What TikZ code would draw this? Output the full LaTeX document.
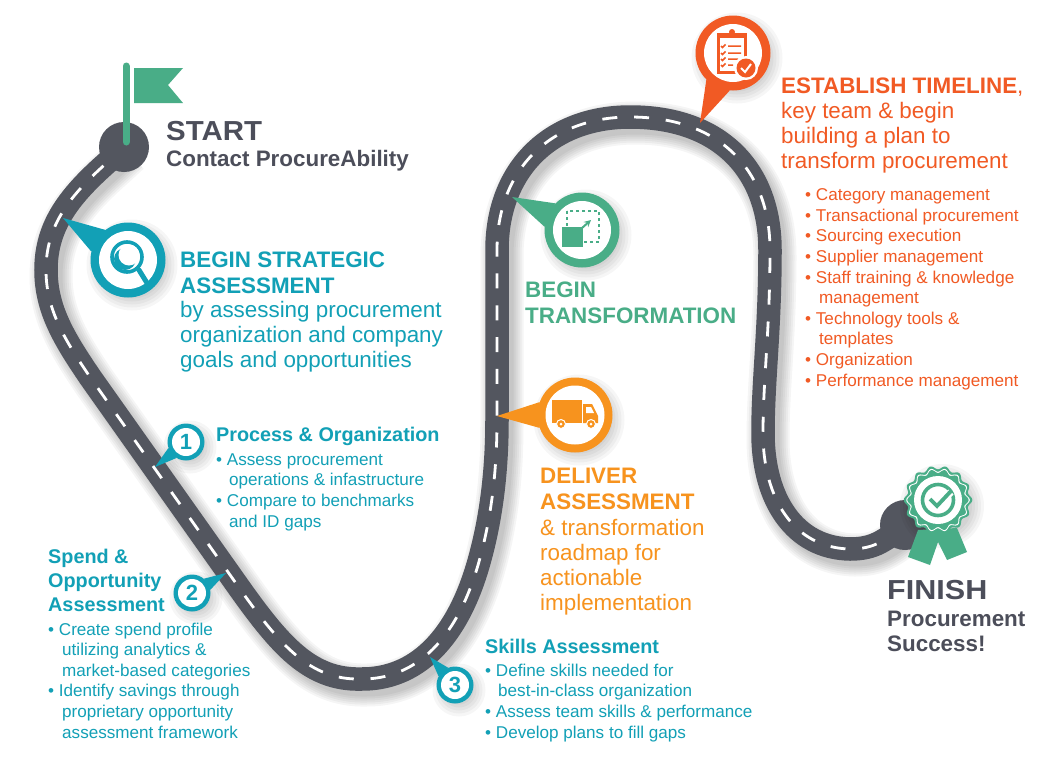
\documentclass[tikz,border=0pt]{standalone}
\usepackage{fontspec}
\setmainfont{Liberation Sans}
\usetikzlibrary{calc}

\definecolor{roadgray}{HTML}{53565F}
\definecolor{inkgray}{HTML}{4C4E5A}
\definecolor{tealmark}{HTML}{12A0B6}
\definecolor{greenmark}{HTML}{49AD87}
\definecolor{orangemark}{HTML}{F7931E}
\definecolor{redmark}{HTML}{F15A24}

\tikzset{
  pinring/.style={circle,inner sep=0pt,fill=#1},
  pinface/.style={circle,inner sep=0pt,fill=white},
  numface/.style={pinface,minimum size=28pt,text=tealmark,font=\fontsize{22}{22}\selectfont\bfseries},
  blocktext/.style={anchor=base west,align=left,inner sep=0pt,text=#1},
  bighead/.style={font=\fontsize{22.4}{25.6}\selectfont\bfseries},
  bigbody/.style={font=\fontsize{22.4}{25}\selectfont},
  smallhead/.style={font=\fontsize{19.8}{24}\selectfont\bfseries},
  smallbody/.style={font=\fontsize{17.1}{20.6}\selectfont},
}

% centre line of the road
\newcommand{\roadline}{(124,147) -- (110,160) .. controls (70,195) and (46,225) .. (46,270) .. controls (46,310) and (65,340) .. (90,377) -- (240,589) .. controls (280,645) and (310,680) .. (360,679) .. controls (415,680) and (458,640) .. (480,558) .. controls (489,525) and (497,480) .. (497,420) -- (497,250) .. controls (497,170) and (550,117) .. (630,117) .. controls (720,117) and (770,170) .. (770,250) .. controls (770,330) and (763,380) .. (763,433) .. controls (763,500) and (795,548) .. (850,549) .. controls (875,549) and (885,540) .. (905,525)}

% name, centre, size, tip, axis angle, colour
\newcommand{\pinmark}[6]{%
  \foreach \s in {0,3,...,15}
    \fill[black,opacity=.035,shift={(4,5)}] (#2) circle ({#3/2+8-\s});
  \node[pinring=#6,minimum size=#3pt] (#1) at (#2) {};
  \pgfmathsetmacro{\pinA}{#5+20}
  \pgfmathsetmacro{\pinB}{#5-20}
  \fill[#6] (#4) -- (#1.\pinA) -- (#1.\pinB) -- cycle;
}

\begin{document}
\begin{tikzpicture}[x=1pt,y=-1pt]
\path[fill=white,use as bounding box] (0,0) rectangle (1050,764);

% road
\foreach \w in {23,27,31,35,39,43}
  \draw[black,opacity=.04,line width=\w pt,shift={(5,6)}] \roadline;
\draw[roadgray,line width=23.5pt] \roadline;
\draw[white,line width=2.8pt,dash pattern=on 15pt off 16.8pt,dash phase=4pt] \roadline;
\fill[roadgray] (124,147) circle (25);
\fill[roadgray] (905,525) circle (25);

% flag
\draw[greenmark,line width=7pt,line cap=round] (126,66) -- (126,142);
\fill[greenmark] (134,68) -- (183,68) -- (168,85) -- (183,103) -- (134,103) -- cycle;

% magnifier
\coordinate (searchtip) at (63,218);
\pinmark{search}{128,260}{75}{searchtip}{147}{tealmark}
\node[pinface,minimum size=58pt] (searchface) at (128,260) {};
\draw[tealmark,line width=3.6pt] (127,257) circle (15);
\fill[tealmark] (125,259) circle (11);
\fill[white] (129,255) circle (10.5);
\draw[tealmark,line width=5pt,line cap=round] (139,270) -- (147,283);

% resize icon
\coordinate (growtip) at (512,197);
\pinmark{grow}{582,230}{75}{growtip}{155}{greenmark}
\node[pinface,minimum size=58pt] (growface) at (582,230) {};
\draw[greenmark,line width=1.4pt,dashed] (567,211) rectangle (599,242);
\fill[greenmark] (562,227) rectangle (583,247);
\draw[greenmark,line width=2pt,-stealth] (582,228) -- (591,220);

% clipboard
\coordinate (plantip) at (700,123);
\pinmark{plan}{733,53}{75}{plantip}{245}{redmark}
\node[pinface,minimum size=58pt] (planface) at (733,53) {};
\fill[redmark] (717,33) rectangle (747,74);
\fill[white] (720,38) rectangle (744,71);
\fill[redmark] (725,34) rectangle (739,38);
\fill[redmark] (732,32) circle (3);
\foreach \y/\e in {46/741,53/741,59/738,65/733}
  \draw[redmark,line width=1.5pt] (721,\y) -- ++(1.5,1.5) -- ++(3,-3) (728,\y) -- (\e,\y);
\fill[white] (746,68) circle (12);
\fill[redmark] (746,68) circle (9.5);
\draw[white,line width=2pt] (741,68) -- (745,72) -- (751,64);

% truck
\coordinate (trucktip) at (497,416);
\pinmark{truck}{575,415}{75}{trucktip}{180}{orangemark}
\node[pinface,minimum size=59pt] (truckface) at (575,415) {};
\fill[orangemark] (552,400) rectangle (582,423);
\fill[orangemark] (583,404) -- (592,404) -- (598,416) -- (598,423) -- (583,423) -- cycle;
\fill[white] (586,407) -- (591,407) -- (594,413) -- (586,413) -- cycle;
\draw[white,line width=1pt,fill=orangemark] (561,424) circle (4.5);
\draw[white,line width=1pt,fill=orangemark] (591,424) circle (4.5);
\fill[white] (561,424) circle (1.5);
\fill[white] (591,424) circle (1.5);

% numbered marks
\coordinate (firsttip) at (155,467);
\pinmark{first}{186,442}{37}{firsttip}{219}{tealmark}
\node[numface] (firstface) at (186,442) {1};
\coordinate (secondtip) at (226,573);
\pinmark{second}{192,593}{37}{secondtip}{30}{tealmark}
\node[numface] (secondface) at (192,593) {2};
\coordinate (thirdtip) at (430,657);
\pinmark{third}{455,685}{37}{thirdtip}{132}{tealmark}
\node[numface] (thirdface) at (455,685) {3};

% medal
\foreach \s in {0,3,...,12}
  \fill[black,opacity=.035] (942,506) circle ({42-\s});
\fill[greenmark] (918,530) -- (908,557) -- (930,565) -- (938,542) -- (947,560) -- (967,552) -- (957,528) -- cycle;
\fill[greenmark] plot[domain=0:360,samples=180] ({938+(32.5+1.8*cos(14*\x))*cos(\x)},{500+(32.5+1.8*cos(14*\x))*sin(\x)}) -- cycle;
\fill[white] plot[domain=0:360,samples=180] ({938+(30+1.8*cos(14*\x))*cos(\x)},{500+(30+1.8*cos(14*\x))*sin(\x)}) -- cycle;
\fill[greenmark] plot[domain=0:360,samples=180] ({938+(28.8+1.8*cos(14*\x))*cos(\x)},{500+(28.8+1.8*cos(14*\x))*sin(\x)}) -- cycle;
\fill[white] (938,500) circle (24);
\draw[greenmark,line width=3.6pt] (938,500) circle (15.5);
\draw[white,line width=7pt] (930,500) -- (937,507) -- (951,492);
\draw[greenmark,line width=3.8pt] (930,499) -- (937,506) -- (951,491);

% start and finish
\node[blocktext=inkgray,xscale=1.07,font=\fontsize{27.5}{27}\selectfont\bfseries] (starthead) at (166,140) {START};
\node[blocktext=inkgray,font=\fontsize{22.4}{25}\selectfont\bfseries] (startbody) at (166,166) {Contact ProcureAbility};
\node[blocktext=inkgray,xscale=1.11,font=\fontsize{27.5}{27}\selectfont\bfseries] (finishhead) at (887,599) {FINISH};
\node[blocktext=inkgray,font=\fontsize{22.4}{25}\selectfont\bfseries] (finishbody) at (887,651) {Procurement\\Success!};

% teal blocks
\node[blocktext=tealmark,bighead] (assesshead) at (180,293) {BEGIN STRATEGIC\\ASSESSMENT};
\node[blocktext=tealmark,bigbody] (assessbody) at (180,367) {by assessing procurement\\organization and company\\goals and opportunities};
\node[blocktext=tealmark,smallhead] (processhead) at (216,441) {Process \& Organization};
\node[blocktext=tealmark,smallbody] (processbody) at (216,527) {• Assess procurement\\\hspace*{13pt}operations \& infastructure\\• Compare to benchmarks\\\hspace*{13pt}and ID gaps};
\node[blocktext=tealmark,smallhead] (spendhead) at (48,611) {Spend \&\\Opportunity\\Assessment};
\node[blocktext=tealmark,smallbody] (spendbody) at (48,738) {• Create spend profile\\\hspace*{14pt}utilizing analytics \&\\\hspace*{14pt}market-based categories\\• Identify savings through\\\hspace*{14pt}proprietary opportunity\\\hspace*{14pt}assessment framework};
\node[blocktext=tealmark,smallhead] (skillshead) at (485,653) {Skills Assessment};
\node[blocktext=tealmark,smallbody] (skillsbody) at (485,738) {• Define skills needed for\\\hspace*{13pt}best-in-class organization\\• Assess team skills \& performance\\• Develop plans to fill gaps};

% green and orange blocks
\node[blocktext=greenmark,bighead] (changehead) at (525,323) {BEGIN\\TRANSFORMATION};
\node[blocktext=orangemark,bighead] (deliverhead) at (540,509) {DELIVER\\ASSESSMENT};
\node[blocktext=orangemark,bigbody] (deliverbody) at (540,610) {\& transformation\\roadmap for\\actionable\\implementation};

% red blocks
\node[blocktext=redmark,bigbody] (planhead) at (781,168) {\textbf{ESTABLISH TIMELINE},\\key team \& begin\\building a plan to\\transform procurement};
\node[blocktext=redmark,smallbody] (planbody) at (805,386) {• Category management\\• Transactional procurement\\• Sourcing execution\\• Supplier management\\• Staff training \& knowledge\\\hspace*{14pt}management\\• Technology tools \&\\\hspace*{14pt}templates\\• Organization\\• Performance management};

\end{tikzpicture}
\end{document}
